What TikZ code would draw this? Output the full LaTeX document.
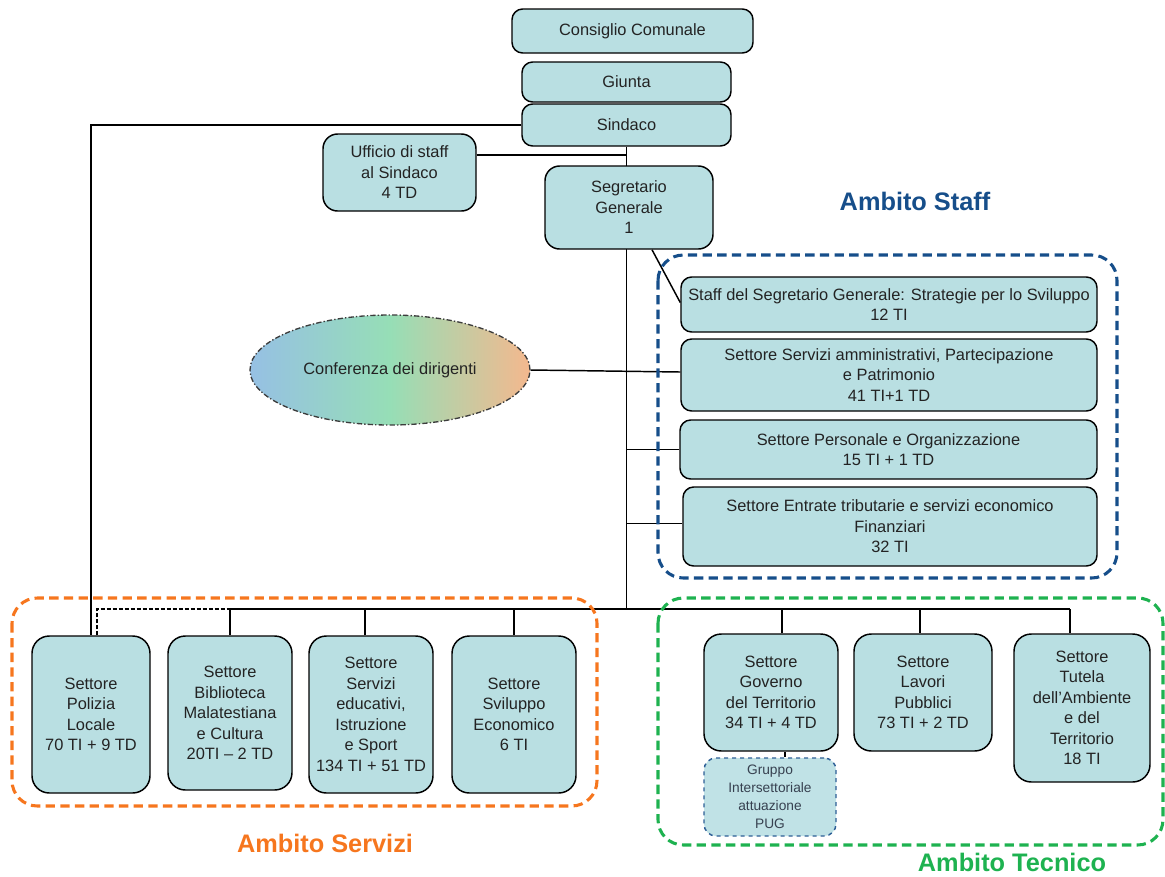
\documentclass[tikz,border=0pt]{standalone}
\usepackage{fontspec}
\setmainfont{Liberation Sans}
\usetikzlibrary{shapes.geometric}
\pgfdeclarelayer{background}
\pgfsetlayers{background,main}

\definecolor{boxfill}{RGB}{185,223,226}
\definecolor{boxtext}{RGB}{35,35,35}
\definecolor{staffblue}{RGB}{22,78,138}
\definecolor{servorange}{RGB}{246,118,30}
\definecolor{tecgreen}{RGB}{30,178,80}
\definecolor{groupblue}{RGB}{45,95,150}
\definecolor{groupfill}{RGB}{192,226,230}
\definecolor{ellblue}{RGB}{150,192,228}
\definecolor{ellgreen}{RGB}{150,222,182}
\definecolor{ellorange}{RGB}{244,184,142}

\tikzset{
  wh/.style 2 args={minimum width=#1*0.75pt, minimum height=#2*0.75pt},
  orgbox/.style={draw=black, fill=boxfill, line width=1.1pt, rounded corners=8pt,
    align=center, inner sep=1pt, text=boxtext,
    font=\fontsize{12.3}{15.4}\selectfont},
  tallbox/.style={orgbox, rounded corners=13pt},
  groupbox/.style={draw=groupblue, fill=groupfill, line width=1.1pt, dashed,
    rounded corners=9pt, align=center, inner sep=1pt, text={rgb,255:red,55;green,65;blue,80},
    font=\fontsize{10.3}{13.6}\selectfont},
  frame/.style={line width=2.3pt, rounded corners=19pt, dash pattern=on 7pt off 4pt},
  ambito/.style={font=\fontsize{19}{22}\bfseries\selectfont},
  link/.style={draw=black, line width=1.1pt},
}

\begin{document}
\begin{tikzpicture}[x=0.75pt, y=-0.75pt]
\useasboundingbox (0,0) rectangle (1165,876);

% governing bodies
\node[orgbox, wh={241}{44}] (cc) at (632.5,31) {Consiglio Comunale};
\node[orgbox, wh={209}{40}] (giunta) at (626.5,82) {Giunta};
\node[orgbox, wh={209}{42}] (sindaco) at (626.5,125) {Sindaco};
\node[orgbox, wh={153}{77}, rounded corners=11pt] (ufficio) at (399.5,172.5) {Ufficio di staff\\al Sindaco\\4 TD};
\node[orgbox, wh={168}{83}, rounded corners=11pt] (segr) at (629,207.5) {Segretario\\Generale\\1};

% staff area
\draw[frame, draw=staffblue] (658,255) rectangle (1117,578);
\node[ambito, text=staffblue] (lstaff) at (915,201) {Ambito Staff};
\node[orgbox, wh={416}{55}] (s1) at (889,304.5) {Staff del Segretario Generale: Strategie per lo Sviluppo\\12 TI};
\node[orgbox, wh={416}{72}] (s2) at (889,375) {Settore Servizi amministrativi, Partecipazione\\e Patrimonio\\41 TI+1 TD};
\node[orgbox, wh={417}{59}] (s3) at (888.5,449.5) {Settore Personale e Organizzazione\\15 TI + 1 TD};
\node[orgbox, wh={414}{79}] (s4) at (890,526.5) {Settore Entrate tributarie e servizi economico\\Finanziari\\32 TI};

% conference of managers
\node[ellipse, draw={rgb,255:red,60;green,60;blue,60}, line width=1pt,
  dash pattern=on 4pt off 1.6pt on 1pt off 1.6pt,
  left color=ellblue, right color=ellorange, middle color=ellgreen,
  wh={280}{110}, inner sep=0pt, text=boxtext,
  font=\fontsize{12.3}{15.4}\selectfont] (ell) at (390,370) {Conferenza dei dirigenti};

% services area
\draw[frame, draw=servorange] (12,598) rectangle (597,806);
\node[ambito, text=servorange] (lserv) at (325,843) {Ambito Servizi};
\node[tallbox, wh={118}{157}] (pol) at (91,714.5) {Settore\\Polizia\\Locale\\70 TI + 9 TD};
\node[tallbox, wh={124}{154}] (bib) at (230,713) {Settore\\Biblioteca\\Malatestiana\\e Cultura\\20TI -- 2 TD};
\node[tallbox, wh={124}{157}] (edu) at (371,714.5) {Settore\\Servizi\\educativi,\\Istruzione\\e Sport\\134 TI + 51 TD};
\node[tallbox, wh={124}{157}] (svi) at (514,714.5) {Settore\\Sviluppo\\Economico\\6 TI};

% technical area
\draw[frame, draw=tecgreen] (658,598) rectangle (1163,845);
\node[ambito, text=tecgreen] (ltec) at (1012,862) {Ambito Tecnico};
\node[tallbox, wh={134}{117}] (gov) at (771,692.5) {Settore\\Governo\\del Territorio\\34 TI + 4 TD};
\node[tallbox, wh={138}{117}] (lav) at (923,692.5) {Settore\\Lavori\\Pubblici\\73 TI + 2 TD};
\node[tallbox, wh={136}{148}] (tut) at (1082,708) {Settore\\Tutela\\dell'Ambiente\\e del\\Territorio\\18 TI};
\node[groupbox, wh={132}{78}] (gruppo) at (770,797) {Gruppo\\Intersettoriale\\attuazione\\PUG};

% connectors
\coordinate (busL) at (230,609);
\coordinate (busR) at (1070,609);
\begin{pgfonlayer}{background}
  \draw[link] (sindaco.west) -| (pol.north);
  \draw[link] (sindaco.south) -- (sindaco.south |- busL);
  \draw[link] ([yshift=17.5*0.75pt]ufficio.east) -| (sindaco.south);
  \draw[link] ([xshift=23*0.75pt]segr.south) -- ([yshift=2*0.75pt]s1.west);
  \draw[link] (ell.east) -- ([yshift=3*0.75pt]s2.west);
  \draw[link] (s3.west) -- (s3.west -| sindaco.south);
  \draw[link] ([yshift=3*0.75pt]s4.west) -- ([yshift=3*0.75pt]s4.west -| sindaco.south);
  \draw[link] (busL) -- (busR);
  \draw[link, dashed, dash pattern=on 3pt off 1.5pt] ([xshift=6*0.75pt]pol.north) |- (busL);
  \draw[link] (bib.north) -- (bib.north |- busL);
  \draw[link] ([xshift=-6*0.75pt]edu.north) |- (busL);
  \draw[link] (svi.north) |- (busL);
  \draw[link] ([xshift=11*0.75pt]gov.north) |- (busR);
  \draw[link] ([xshift=-3*0.75pt]lav.north) |- (busR);
  \draw[link] ([xshift=-12*0.75pt]tut.north) |- (busR);
  \draw[link] ([xshift=14*0.75pt]gov.south) -- ([xshift=14*0.75pt]gov.south |- gruppo.north);
\end{pgfonlayer}
\end{tikzpicture}
\end{document}
